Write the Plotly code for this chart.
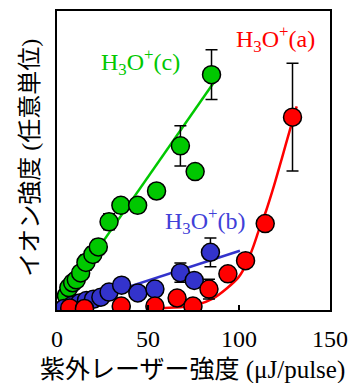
import plotly.graph_objects as go

# Laser pulse energy (uJ/pulse) and ion signal (arb. units) for each H3O+ channel
a_energy = [7.0, 15.1, 35.3, 53.8, 66.0, 74.7, 83.5, 93.9, 103.6, 114.4, 129.4]
a_signal = [0.7, 0.5, 1.3, 1.3, 4.0, 1.3, 7.0, 12.1, 16.5, 28.9, 64.5]
a_error = [None, None, None, None, None, None, 3.3, None, None, None, 18.0]

b_energy = [3.8, 8.1, 12.4, 16.2, 20.0, 24.1, 28.6, 35.5, 44.4, 53.8, 67.8, 75.4, 84.3]
b_signal = [0.5, 1.5, 2.3, 3.2, 3.6, 4.3, 6.0, 8.3, 5.7, 7.0, 12.5, 9.9, 19.3]
b_error = [None, None, None, None, None, None, None, None, None, None, 3.2, None, 4.8]

c_energy = [5.2, 6.5, 8.6, 10.6, 13.0, 15.9, 19.7, 22.7, 28.6, 35.1, 44.3, 54.7, 67.8, 75.9, 84.9]
c_signal = [4.8, 7.5, 9.1, 10.1, 12.4, 15.9, 18.6, 21.1, 29.5, 35.0, 35.0, 39.8, 54.9, 46.3, 78.7]
c_error = [None, None, None, None, None, 2.5, 2.5, 2.5, 2.7, None, None, None, 6.7, None, 8.3]

# Fitted curves
a_fit_x = [52.9, 58.3, 69.1, 77.2, 85.3, 93.4, 99.8, 104.2, 107.9, 111.2, 114.9, 119.2, 123.6, 127.9, 131.7]
a_fit_y = [0.5, 0.7, 1.0, 1.8, 3.7, 7.3, 11.0, 15.6, 21.3, 27.2, 33.2, 41.5, 50.8, 60.1, 68.1]
b_fit_x = [0.0, 100.5]
b_fit_y = [0.0, 19.8]
c_fit_x = [0.0, 89.7]
c_fit_y = [0.8, 79.2]

x_ticks = [0, 50, 100, 150]

RED = "#FF0000"
BLUE = "#3333CC"
GREEN = "#00C800"
SERIF = "Liberation Serif, Noto Sans CJK JP"

fig = go.Figure()

# fit lines underneath the markers
fig.add_trace(go.Scatter(x=c_fit_x, y=c_fit_y, mode="lines",
                         line=dict(color=GREEN, width=2.5), hoverinfo="skip"))
fig.add_trace(go.Scatter(x=b_fit_x, y=b_fit_y, mode="lines",
                         line=dict(color=BLUE, width=2.5), hoverinfo="skip"))
fig.add_trace(go.Scatter(x=a_fit_x, y=a_fit_y, mode="lines",
                         line=dict(color=RED, width=2.5, shape="spline", smoothing=0.8),
                         hoverinfo="skip"))


def points(x, y, err, color):
    return go.Scatter(
        x=x, y=y, mode="markers",
        marker=dict(size=18, color=color, line=dict(color="black", width=1.5)),
        error_y=dict(type="data", array=err, visible=True, color="black",
                     thickness=1.5, width=6),
    )


fig.add_trace(points(c_energy, c_signal, c_error, GREEN))
fig.add_trace(points(b_energy, b_signal, b_error, BLUE))
fig.add_trace(points(a_energy, a_signal, a_error, RED))

label_font = dict(family=SERIF, size=24)
fig.add_annotation(x=45.7, y=83.0, text="H<sub>3</sub>O<sup>+</sup>(c)", showarrow=False,
                   font=dict(label_font, color=GREEN))
fig.add_annotation(x=120.3, y=90.5, text="H<sub>3</sub>O<sup>+</sup>(a)", showarrow=False,
                   font=dict(label_font, color=RED))
fig.add_annotation(x=81.8, y=29.8, text="H<sub>3</sub>O<sup>+</sup>(b)", showarrow=False,
                   font=dict(label_font, color="#4040D8"))

# axis titles
fig.add_annotation(xref="paper", yref="paper", x=0.498, y=-0.199,
                   xanchor="center", yanchor="middle",
                   text="紫外レーザー強度 (μJ/pulse)", showarrow=False,
                   font=dict(family=SERIF, size=25, color="black"))
fig.add_annotation(xref="paper", yref="paper", x=-0.097, y=0.508, textangle=-90,
                   xanchor="center", yanchor="middle",
                   text="イオン強度 (任意単位)", showarrow=False,
                   font=dict(family=SERIF, size=24, color="black"))

fig.update_xaxes(range=[0, 150], tickvals=x_ticks, ticks="inside", ticklen=5,
                 tickcolor="black", tickwidth=1.5, showline=True, mirror=True,
                 linecolor="black", linewidth=1.5, showgrid=False, zeroline=False,
                 ticklabelstandoff=6,
                 tickfont=dict(family=SERIF, size=24, color="black"))
fig.update_yaxes(range=[0, 100], showticklabels=False, ticks="", showline=True,
                 mirror=True, linecolor="black", linewidth=1.5, showgrid=False,
                 zeroline=False)

fig.update_layout(width=357, height=383, margin=dict(l=57, r=22, t=9, b=73),
                  paper_bgcolor="white", plot_bgcolor="white", showlegend=False)

fig.write_html("out.html")
